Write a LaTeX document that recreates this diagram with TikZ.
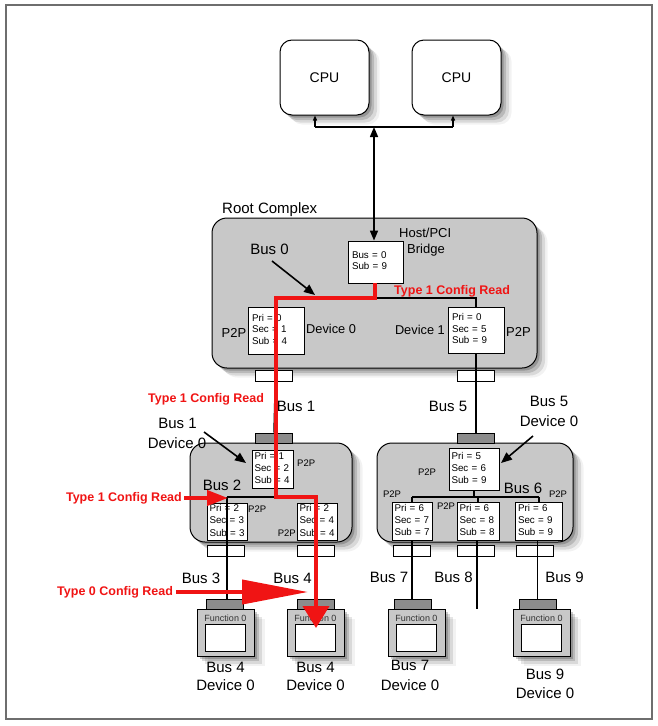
\documentclass[tikz,border=0pt]{standalone}
\usepackage{fontspec}
\setmainfont{Liberation Sans}
\usetikzlibrary{arrows.meta,shadows}
\definecolor{panelgray}{RGB}{200,200,200}
\definecolor{darkconn}{RGB}{140,140,140}
\definecolor{framegray}{RGB}{110,110,110}
\definecolor{cfgred}{RGB}{240,20,20}
\newcommand{\regtab}[1]{\begin{tabular}{@{}l@{}}#1\end{tabular}}
\tikzset{
  softshadow/.style={
    drop shadow={shadow xshift=2.5pt,shadow yshift=-2.5pt,opacity=0.2,fill=black},
    drop shadow={shadow xshift=5pt,shadow yshift=-5pt,opacity=0.15,fill=black},
    drop shadow={shadow xshift=8pt,shadow yshift=-7.5pt,opacity=0.1,fill=black},
    drop shadow={shadow xshift=10.5pt,shadow yshift=-9.5pt,opacity=0.05,fill=black}},
  cpubox/.style={draw,line width=1,fill=white,rounded corners=12,minimum width=89,minimum height=75,inner sep=0,softshadow,font=\fontsize{14}{16}\selectfont},
  panel/.style={draw,line width=1,fill=panelgray,rounded corners=15,inner sep=0,softshadow},
  regbox/.style={draw,line width=0.8,fill=white,inner ysep=0,align=left},
  rcbox/.style={regbox,inner xsep=4,font=\fontsize{9.8}{11.3}\selectfont},
  brbox/.style={regbox,inner xsep=2.5,font=\fontsize{9.8}{12.2}\selectfont},
  conn/.style={draw,line width=0.8,fill=white,minimum width=37,minimum height=11,inner sep=0},
  dconn/.style={draw,line width=0.8,fill=darkconn,minimum width=37,minimum height=10,inner sep=0},
  fnbox/.style={draw,line width=0.8,fill=panelgray,minimum width=57,minimum height=47,inner sep=0,softshadow},
  fninner/.style={draw,line width=0.8,fill=white,minimum width=40,minimum height=27,inner sep=0},
  lbl/.style={font=\fontsize{15}{18}\selectfont,inner sep=0},
  midlbl/.style={font=\fontsize{13}{15}\selectfont,inner sep=0},
  smlbl/.style={font=\fontsize{9.5}{11}\selectfont,inner sep=0},
  fnlbl/.style={font=\fontsize{9}{10}\selectfont,inner sep=0,text=black!80},
  redlbl/.style={text=cfgred,font=\bfseries\fontsize{12.5}{15}\selectfont,inner sep=0},
  bus/.style={line width=1.5},
  redpath/.style={draw=cfgred,line width=4,line join=miter},
  callout/.style={line width=1.6,-{Triangle[length=11,width=9]}},
}
\begin{document}
\begin{tikzpicture}[x=1pt,y=-1pt]
\useasboundingbox (0,0) rectangle (657,726);
\draw[framegray,line width=2] (6,5) rectangle (652,719);

% CPUs
\node[cpubox] (cpu1) at (324.5,77.5) {CPU};
\node[cpubox] (cpu2) at (456.5,77.5) {CPU};
\coordinate (cb1) at (315,127);
\coordinate (cb2) at (453,127);
\coordinate (cbm) at (374,127);

% Root complex
\node[panel,minimum width=325,minimum height=150] (rc) at (374.5,293) {};
\node[lbl,anchor=west] (rclbl) at (222,210) {Root Complex};

% Bus 1 and Bus 5 bridges
\node[panel,minimum width=162,minimum height=99] (br1) at (271,492.5) {};
\node[panel,minimum width=196,minimum height=99] (br5) at (475,492.5) {};

% connectors
\node[conn] (rcc0) at (274,376) {};
\node[conn] (rcc1) at (476,376) {};
\node[dconn] (br1top) at (274,438) {};
\node[dconn] (br5top) at (476,438) {};
\node[conn] (c3) at (226,550.5) {};
\node[conn] (c4) at (316,550.5) {};
\node[conn] (c7) at (412,550.5) {};
\node[conn] (c8) at (476,550.5) {};
\node[conn] (c9) at (535,550.5) {};

% function boxes
\node[fnbox] (f1) at (225.5,632.5) {};
\node[fnbox] (f2) at (315.5,632.5) {};
\node[fnbox] (f3) at (416.5,632.5) {};
\node[fnbox] (f4) at (541.5,632.5) {};
\node[dconn] (f1c) at (225,604) {};
\node[dconn] (f2c) at (316,604) {};
\node[dconn] (f3c) at (412.5,604) {};
\node[dconn] (f4c) at (537.5,604) {};
\node[fninner] (f1i) at (225.5,637.5) {};
\node[fninner] (f2i) at (315.5,637.5) {};
\node[fninner] (f3i) at (416.5,637.5) {};
\node[fninner] (f4i) at (541.5,637.5) {};
\node[fnlbl] (f1t) at (225.5,618) {Function 0};
\node[fnlbl] (f2t) at (315.5,618) {Function 0};
\node[fnlbl] (f3t) at (416.5,618) {Function 0};
\node[fnlbl] (f4t) at (541.5,618) {Function 0};

% register boxes
\node[rcbox,text width=47,minimum height=42] (host) at (375.5,262) {\regtab{Bus = 0\\Sub = 9}};
\node[rcbox,text width=48,minimum height=47] (dev0) at (276,330.5) {\regtab{Pri = 0\\Sec = 1\\Sub = 4}};
\node[rcbox,text width=48,minimum height=46] (dev1) at (476,330) {\regtab{Pri = 0\\Sec = 5\\Sub = 9}};
\node[brbox,text width=36,minimum height=38] (b1p) at (272.5,469) {\regtab{Pri = 1\\Sec = 2\\Sub = 4}};
\node[brbox,text width=35,minimum height=37] (b2l) at (227,521.5) {\regtab{Pri = 2\\Sec = 3\\Sub = 3}};
\node[brbox,text width=35,minimum height=37] (b2r) at (317,521.5) {\regtab{Pri = 2\\Sec = 4\\Sub = 4}};
\node[brbox,text width=45,minimum height=42] (b5p) at (474,469) {\regtab{Pri = 5\\Sec = 6\\Sub = 9}};
\node[brbox,text width=35,minimum height=38] (b6a) at (412,521) {\regtab{Pri = 6\\Sec = 7\\Sub = 7}};
\node[brbox,text width=37,minimum height=38] (b6b) at (478,521) {\regtab{Pri = 6\\Sec = 8\\Sub = 8}};
\node[brbox,text width=42,minimum height=38] (b6c) at (539,521) {\regtab{Pri = 6\\Sec = 9\\Sub = 9}};

% black buses
\draw[bus,-{Triangle[length=5,width=4]}] (cb1) -- (cb1 |- cpu1.south);
\draw[bus,-{Triangle[length=5,width=4]}] (cb2) -- (cb2 |- cpu2.south);
\draw[bus] (cb1) -- (cb2);
\draw[bus,{Triangle[length=10,width=8]}-{Triangle[length=10,width=8]}] (cbm) -- (cbm |- host.north);
\coordinate (b0l) at (276,298);
\coordinate (b0r) at (476,298);
\draw[bus] (b0l) -- (b0r) -- (dev1.north);
\draw[bus] (dev1.south) -- (br5top.north);
\draw[bus] (dev0.south) -- (br1top.north);
\coordinate (b2l) at (227,497);
\coordinate (b2r) at (317,497);
\draw[bus] (b2l) -- (b2r);
\draw[bus] (b2l) -- (b2l.north);
\draw[bus] (b2l.south) -- (b2l |- f1c.north);
\coordinate (b6l) at (412,497);
\coordinate (b6r) at (539,497);
\draw[bus] (b6l) -- (b6r);
\draw[bus] (b5p.south) -- (b5p.south |- b6l);
\draw[bus] (b6l) -- (b6a.north);
\draw[bus] (b6b.north |- b6l) -- (b6b.north);
\draw[bus] (b6r) -- (b6c.north);
\draw[bus] (b6a.south) -- (b6a.south |- f3c.north);
\coordinate (b8end) at (477,609);
\draw[bus] (b6b.south -| b8end) -- (b8end);
\draw[bus] (b6c.south -| f4c) -- (f4c.north);

% red config path
\coordinate (rp1) at (375,298);
\coordinate (rp2) at (276,298);
\coordinate (rp3) at (276,497);
\coordinate (rp4) at (316,497);
\coordinate (rp5) at (316,628);
\draw[redpath,-{Triangle[length=22,width=26]}] (host.south -| rp1) -- (rp1) -- (rp2) -- (rp3) -- (rp4) -- (rp5);

% labels
\node[midlbl,anchor=west] (hostlbl1) at (399,233) {Host/PCI};
\node[midlbl,anchor=west] (hostlbl2) at (407,250) {Bridge};
\node[lbl] (bus0) at (269.5,249) {Bus 0};
\node[midlbl] (p2p0) at (234,333) {P2P};
\node[font=\fontsize{12.8}{15}\selectfont,inner sep=0,anchor=west] (d0lbl) at (306,329) {Device 0};
\node[font=\fontsize{12.8}{15}\selectfont,inner sep=0,anchor=east] (d1lbl) at (445,330) {Device 1};
\node[midlbl,anchor=west] (p2p1) at (506,332) {P2P};
\node[lbl] (bus1) at (296,406) {Bus 1};
\node[lbl] (bus5) at (448,406) {Bus 5};
\node[lbl] (b1d0a) at (177.5,423) {Bus 1};
\node[lbl] (b1d0b) at (177,443) {Device 0};
\node[smlbl,anchor=west] (p2pb1) at (297,463) {P2P};
\node[lbl] (bus2) at (222,485) {Bus 2};
\node[smlbl,anchor=west] (p2pb2) at (248,509) {P2P};
\node[smlbl,anchor=east] (p2pb3) at (296,533) {P2P};
\node[lbl] (bus3) at (201,578) {Bus 3};
\node[lbl] (bus4) at (292.5,578) {Bus 4};
\node[lbl] (f1a) at (225.5,667) {Bus 4};
\node[lbl] (f1b) at (225.5,685) {Device 0};
\node[lbl] (f2a) at (315.5,667) {Bus 4};
\node[lbl] (f2b) at (315.5,685) {Device 0};
\node[lbl] (bus7) at (389,577) {Bus 7};
\node[lbl] (bus8) at (453.5,577) {Bus 8};
\node[lbl] (bus9) at (564.5,577) {Bus 9};
\node[lbl] (f3a) at (410,665) {Bus 7};
\node[lbl] (f3b) at (410,685) {Device 0};
\node[lbl] (f4a) at (545,674) {Bus 9};
\node[lbl] (f4b) at (545,693) {Device 0};
\node[lbl] (b5d0a) at (549,401) {Bus 5};
\node[lbl] (b5d0b) at (549,421) {Device 0};
\node[smlbl] (p2pb5) at (427,472) {P2P};
\node[lbl] (bus6) at (523,488) {Bus 6};
\node[smlbl] (p2pa) at (392,494) {P2P};
\node[smlbl] (p2pb) at (446,506) {P2P};
\node[smlbl] (p2pc) at (558,494) {P2P};

% callout arrows
\coordinate (c0t) at (272,261);
\coordinate (c0h) at (315,295);
\draw[callout] (c0t) -- (c0h);
\coordinate (c1t) at (204,432);
\coordinate (c1h) at (246,463);
\draw[callout] (c1t) -- (c1h);
\coordinate (c5t) at (533,436);
\coordinate (c5h) at (501,463);
\draw[callout] (c5t) -- (c5h);

% red labels and arrows
\node[redlbl,anchor=west] (t1a) at (394,291) {Type 1 Config Read};
\node[redlbl,anchor=west] (t1b) at (148,399) {Type 1 Config Read};
\node[redlbl,anchor=east] (t1c) at (182,498) {Type 1 Config Read};
\node[redlbl,anchor=west] (t0) at (57,592) {Type 0 Config Read};
\coordinate (t1cend) at (228,498);
\draw[cfgred,line width=4,-{Triangle[length=21,width=15]}] (t1c.east) ++(2,0) -- (t1cend);
\coordinate (t0end) at (308,592);
\draw[cfgred,line width=4,-{Triangle[length=66,width=24]}] (t0.east) ++(3,0) -- (t0end);
\end{tikzpicture}
\end{document}
